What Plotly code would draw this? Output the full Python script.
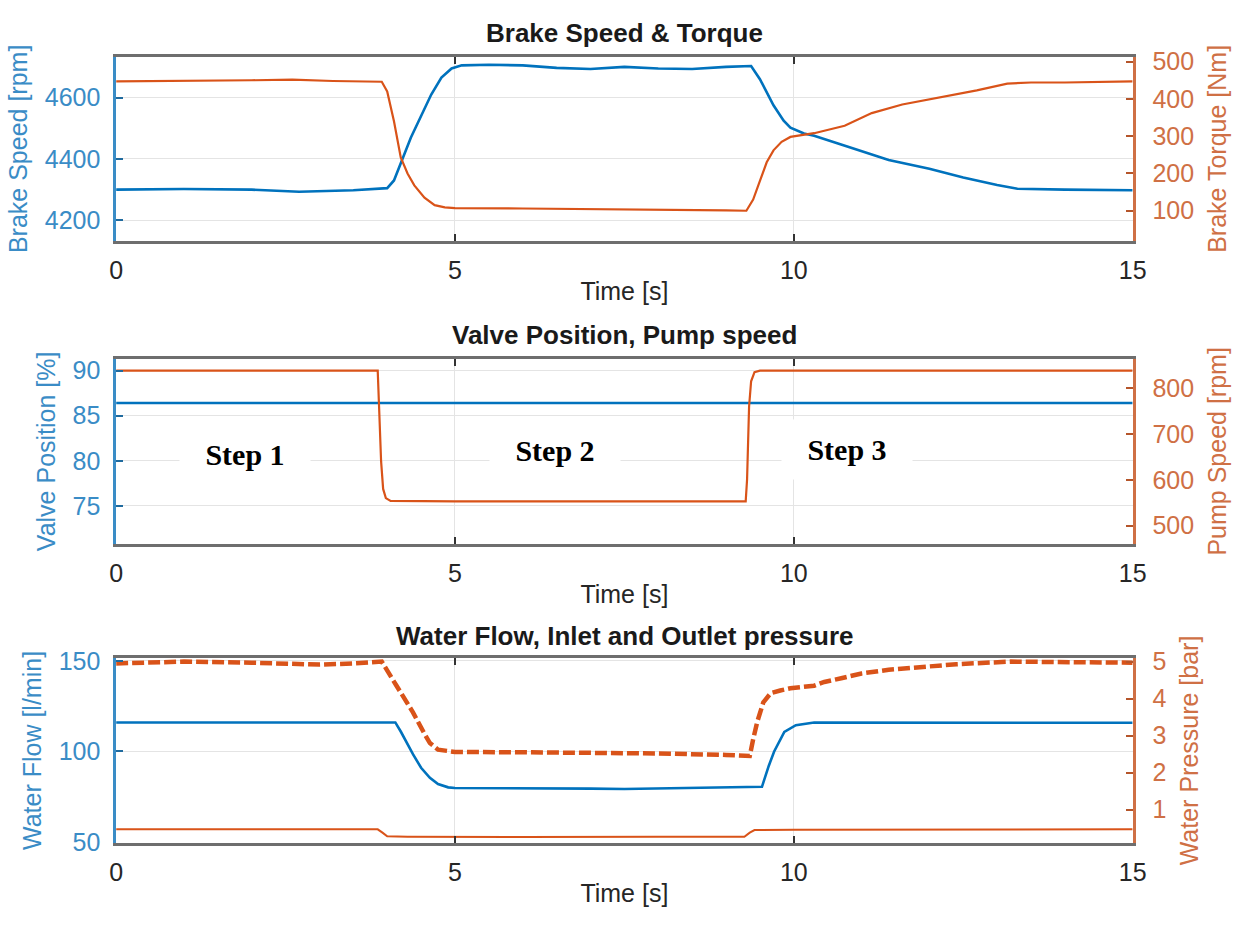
import plotly.graph_objects as go

# ---------------- data ----------------
# Brake speed [rpm] and brake torque [Nm]
speed_t = [0, 1.0, 2.0, 2.7, 3.5, 4.0, 4.1, 4.22, 4.35, 4.5, 4.65, 4.8, 4.95, 5.1, 5.5, 6.0,
           6.5, 7.0, 7.5, 8.0, 8.5, 9.0, 9.37, 9.5, 9.6, 9.7, 9.85, 9.95, 10.15, 10.3, 10.8,
           11.4, 12.0, 12.5, 13.0, 13.3, 14.0, 15.0]
speed = [4300, 4302, 4300, 4293, 4298, 4305, 4330, 4400, 4470, 4540, 4610, 4665, 4695, 4705,
         4707, 4705, 4697, 4693, 4700, 4695, 4693, 4700, 4703, 4660, 4620, 4575, 4525, 4502,
         4483, 4476, 4440, 4397, 4368, 4340, 4315, 4303, 4300, 4298]

torque_t = [0, 1.0, 2.0, 2.6, 3.2, 3.92, 4.0, 4.1, 4.2, 4.3, 4.4, 4.55, 4.7, 4.85, 5.0, 6.0,
            7.0, 8.0, 9.0, 9.3, 9.4, 9.5, 9.6, 9.7, 9.82, 9.95, 10.3, 10.75, 11.15, 11.6,
            11.95, 12.4, 12.7, 13.15, 13.5, 14.0, 14.5, 15.0]
torque = [447, 448, 450, 452, 448, 446, 420, 340, 243, 200, 168, 135, 115, 109, 107, 106,
          105, 103, 101, 100, 130, 180, 230, 262, 285, 298, 308, 328, 362, 385, 397, 412,
          423, 441, 444, 444, 446, 447]

# Valve position [%] and pump speed [rpm]
valve_t = [0, 5, 10, 15]
valve = [86.4, 86.4, 86.4, 86.4]

pump_t = [0, 2.0, 3.86, 3.88, 3.91, 3.94, 3.98, 4.05, 5.0, 7.0, 9.29, 9.31, 9.34, 9.37,
          9.42, 9.5, 12.0, 15.0]
pump = [838, 838, 838, 760, 640, 580, 560, 554, 553, 553, 553, 600, 760, 815, 835, 838,
        838, 838]

# Water flow [l/min], inlet and outlet pressure [bar]
flow_t = [0, 2.0, 4.0, 4.12, 4.2, 4.3, 4.38, 4.5, 4.63, 4.75, 4.9, 5.0, 6.0, 7.0, 7.5, 8.0,
          9.0, 9.53, 9.63, 9.71, 9.86, 10.03, 10.3, 11.0, 12.0, 13.0, 14.0, 15.0]
flow = [116, 116, 116.2, 116, 111, 104, 98.5, 91, 85.5, 82, 80.2, 79.8, 79.8, 79.5, 79.3,
        79.5, 80.2, 80.5, 92, 100, 110.8, 114.5, 116, 116, 115.8, 116, 116, 115.8]

p_in_t = [0, 1.0, 2.0, 2.5, 3.0, 3.5, 3.92, 4.14, 4.38, 4.55, 4.63, 4.75, 4.87, 5.0, 6.0,
          7.0, 8.0, 9.0, 9.35, 9.4, 9.46, 9.55, 9.66, 9.8, 9.95, 10.3, 10.45, 10.7, 11.0,
          11.4, 11.9, 12.4, 13.2, 14.0, 15.0]
p_in = [4.95, 5.0, 4.97, 4.93, 4.92, 4.95, 5.0, 4.34, 3.63, 3.05, 2.8, 2.62, 2.58, 2.56,
        2.55, 2.55, 2.52, 2.48, 2.45, 2.9, 3.37, 3.9, 4.15, 4.22, 4.28, 4.35, 4.45, 4.55,
        4.68, 4.78, 4.87, 4.93, 5.0, 5.0, 4.97]

p_out_t = [0, 2.0, 3.86, 3.93, 4.0, 4.3, 6.0, 8.0, 9.27, 9.35, 9.42, 10.0, 12.0, 15.0]
p_out = [0.47, 0.47, 0.47, 0.38, 0.28, 0.27, 0.26, 0.27, 0.27, 0.38, 0.45, 0.46, 0.46, 0.47]

time_ticks = [0, 5, 10, 15]
step_labels = ["Step 1", "Step 2", "Step 3"]
step_t = [1.9, 6.48, 10.78]
step_valve = [80.7, 81.2, 81.3]

# ---------------- styling ----------------
BLUE = "#0072BD"
ORANGE = "#D95319"
BLUE_TXT = "#3a8cc6"
ORANGE_TXT = "#cf7045"
FONT = "Liberation Sans, Arial, sans-serif"
FS = 25
W, H = 1243, 932

x_dom = [111 / W, 1145 / W]
panels = [  # (top px, bottom px)
    (47, 236),
    (357, 547),
    (664, 854),
]

fig = go.Figure()

def add(xs, ys, xa, ya, color, width, dash="solid"):
    fig.add_trace(go.Scatter(x=xs, y=ys, xaxis=xa, yaxis=ya, mode="lines",
                             line=dict(color=color, width=width, dash=dash),
                             showlegend=False, hoverinfo="skip"))

add(speed_t, speed, "x", "y", BLUE, 2.6)
add(torque_t, torque, "x", "y2", ORANGE, 2.2)
add(valve_t, valve, "x2", "y3", BLUE, 2.5)
add(pump_t, pump, "x2", "y4", ORANGE, 2.2)
add(flow_t, flow, "x3", "y5", BLUE, 2.6)
add(p_in_t, p_in, "x3", "y6", ORANGE, 4.5, dash="12px,4px")
add(p_out_t, p_out, "x3", "y6", ORANGE, 2.0)

left_cfg = [
    ("Brake Speed [rpm]", [4133, 4733], [4200, 4400, 4600]),
    ("Valve Position [%]", [70.8, 91.3], [75, 80, 85, 90]),
    ("Water Flow [l/min]", [49.5, 151.6], [50, 100, 150]),
]
right_cfg = [
    ("Brake Torque [Nm]", [19, 513], [100, 200, 300, 400, 500]),
    ("Pump Speed [rpm]", [460, 864], [500, 600, 700, 800]),
    ("Water Pressure [bar]", [0.1, 5.1], [1, 2, 3, 4, 5]),
]

layout = dict(
    width=W, height=H,
    margin=dict(l=0, r=0, t=0, b=0),
    paper_bgcolor="white", plot_bgcolor="white",
    font=dict(family=FONT, size=FS, color="#262626"),
)

for i, (top, bot) in enumerate(panels):
    dom = [1 - bot / H, 1 - top / H]
    xn = "xaxis" if i == 0 else f"xaxis{i + 1}"
    xref = "x" if i == 0 else f"x{i + 1}"
    yl = 2 * i + 1
    yr = 2 * i + 2
    yl_name = "yaxis" if yl == 1 else f"yaxis{yl}"
    yl_ref = "y" if yl == 1 else f"y{yl}"
    layout[xn] = dict(
        domain=x_dom, anchor=yl_ref, range=[0, 15], tickvals=time_ticks,
        showgrid=True, gridcolor="#e4e4e4", gridwidth=1, zeroline=False,
        ticks="inside", ticklen=7, tickwidth=1.5, tickcolor="#333333",
        showline=True, linecolor="#6e6e6e", linewidth=2.5, mirror="ticks",
        tickfont=dict(size=FS, color="#262626"), ticklabelstandoff=5,
        title=dict(text="Time [s]", font=dict(size=FS, color="#262626"), standoff=0),
    )
    lt, lr, lv = left_cfg[i]
    layout[yl_name] = dict(
        domain=dom, anchor=xref, range=lr, tickvals=lv,
        showgrid=True, gridcolor="#e4e4e4", gridwidth=1, zeroline=False,
        ticks="inside", ticklen=7, tickwidth=1.5, tickcolor="#1f6a9e",
        showline=True, linecolor=BLUE_TXT, linewidth=2.5,
        tickfont=dict(size=FS, color=BLUE_TXT), ticklabelstandoff=8,
        title=dict(text=lt, font=dict(size=FS, color=BLUE_TXT), standoff=10),
    )
    rt, rr, rv = right_cfg[i]
    layout[f"yaxis{yr}"] = dict(
        overlaying=yl_ref, side="right", anchor=xref, range=rr, tickvals=rv,
        showgrid=False, zeroline=False,
        ticks="inside", ticklen=7, tickwidth=1.5, tickcolor="#b5552a",
        showline=True, linecolor=ORANGE_TXT, linewidth=2.5,
        tickfont=dict(size=FS, color=ORANGE_TXT), ticklabelstandoff=12,
        title=dict(text=rt, font=dict(size=FS, color=ORANGE_TXT), standoff=16),
    )

fig.update_layout(**layout)

# panel titles
titles = ["Brake Speed & Torque", "Valve Position, Pump speed",
          "Water Flow, Inlet and Outlet pressure"]
title_y = [23, 333, 642]
for txt, ty in zip(titles, title_y):
    fig.add_annotation(text=f"<b>{txt}</b>", xref="paper", yref="paper",
                       x=628 / W, y=1 - ty / H, xanchor="center", yanchor="middle",
                       showarrow=False, font=dict(family=FONT, size=26, color="#1a1a1a"))

# step labels on the valve/pump panel
for lab, st, sv in zip(step_labels, step_t, step_valve):
    fig.add_annotation(text=f"<b>{lab}</b>", xref="x2", yref="y3", x=st, y=sv,
                       xanchor="center", yanchor="middle", showarrow=False,
                       width=128, height=57, bgcolor="white",
                       font=dict(family="Liberation Serif, Times New Roman, serif",
                                 size=30, color="black"))

fig.write_html("out.html")
